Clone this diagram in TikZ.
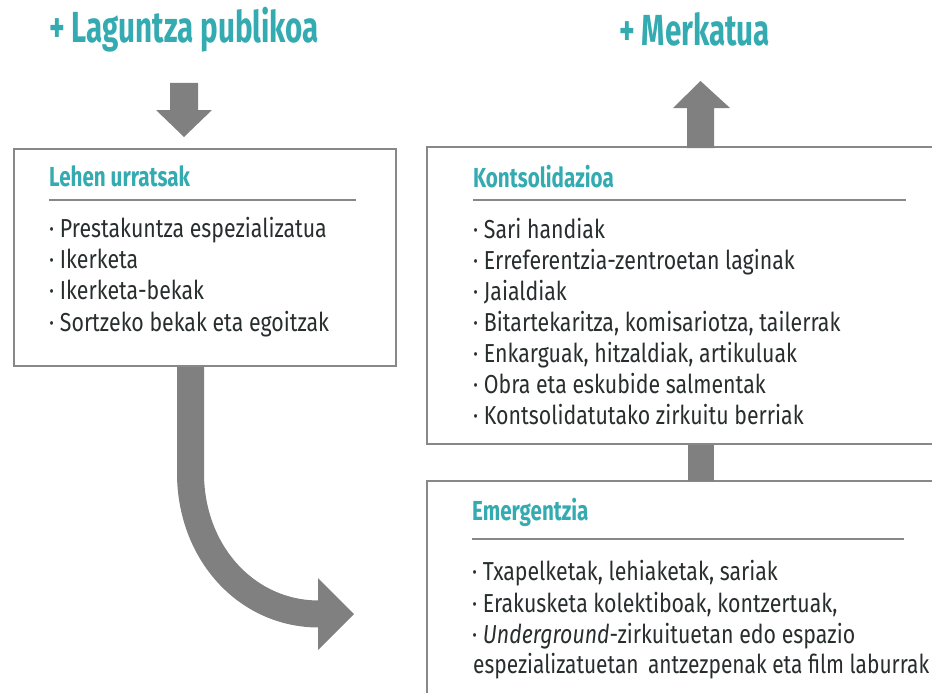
\documentclass[tikz,border=0pt]{standalone}
\usepackage{graphicx}
\usepackage{fontspec}
\setmainfont[FakeStretch=0.82]{Fira Sans}
\newfontfamily\titlefont[FakeStretch=0.68]{Fira Sans}
\newfontfamily\headfont[FakeStretch=0.75]{Fira Sans}
\definecolor{tealc}{RGB}{52,171,177}
\definecolor{textc}{RGB}{40,46,46}
\definecolor{arrowc}{RGB}{128,128,128}
\definecolor{boxc}{RGB}{136,136,136}
\begin{document}
\begin{tikzpicture}[x=1pt,y=-1pt,
  box/.style={draw=boxc, line width=2pt, fill=white, inner sep=0pt, outer sep=0pt, anchor=north west},
  maintitle/.style={anchor=base west, inner sep=0pt, text=tealc, font=\titlefont\bfseries\fontsize{43.5}{50}\selectfont},
  heading/.style={anchor=base west, inner sep=0pt, text=tealc, font=\headfont\bfseries\fontsize{27.5}{32}\selectfont},
  item/.style={anchor=base west, inner sep=0pt, text=textc, font=\fontsize{26}{31}\selectfont},
  rulel/.style={draw=boxc, line width=1.4pt},
  bigarrow/.style={fill=arrowc, draw=none}
]
\useasboundingbox (0,0) rectangle (932,693);
\clip (0,0) rectangle (932,693);

% titles
\node[maintitle] (t1) at (49,43) {+ Laguntza publikoa};
\node[maintitle] (t2) at (619,46) {+ Merkatua};

% boxes
\node[box, minimum width=382pt, minimum height=217pt] (b1) at (14,149) {};
\node[box, minimum width=530pt, minimum height=297pt] (b2) at (427,147) {};
\node[box, minimum width=530pt, minimum height=240pt] (b3) at (427,481) {};

% down arrow into first box
\fill[bigarrow] (170,83) -- (198,83) -- (198,110) -- (212,110) -- (184,137) -- (156,110) -- (170,110) -- cycle;

% up arrow from second box
\fill[bigarrow] (687,148) -- (687,108) -- (673,108) -- (700.5,81) -- (730,108) -- (714,108) -- (714,148) -- cycle;

% connector between Emergentzia and Kontsolidazioa
\fill[bigarrow] (688,445) rectangle (714,481);

% curved arrow
\coordinate (cstart) at (190.5,367);
\coordinate (cend) at (319,614);
\draw[arrowc, line width=27pt] (cstart) -- (190.5,473) .. controls (190.5,552) and (246,614) .. (cend);
\fill[bigarrow] (318,578) -- (354,614) -- (318,650) -- cycle;

% box 1
\node[heading] (h1) at (49,186) {Lehen urratsak};
\draw[rulel] (49,200) -- (356,200);
\node[item] (l1) at (49,237) {· Prestakuntza espezializatua};
\node[item] (l2) at (49,268) {· Ikerketa};
\node[item] (l3) at (49,299.5) {· Ikerketa-bekak};
\node[item] (l4) at (49,331) {· Sortzeko bekak eta egoitzak};

% box 2
\node[heading] (h2) at (473,187) {Kontsolidazioa};
\draw[rulel] (473,200) -- (906,200);
\node[item] (k1) at (473,238) {· Sari handiak};
\node[item] (k2) at (473,269) {· Erreferentzia-zentroetan laginak};
\node[item] (k3) at (473,300.3) {· Jaialdiak};
\node[item] (k4) at (473,331.5) {· Bitartekaritza, komisariotza, tailerrak};
\node[item] (k5) at (473,362.6) {· Enkarguak, hitzaldiak, artikuluak};
\node[item] (k6) at (473,393.7) {· Obra eta eskubide salmentak};
\node[item] (k7) at (473,424.8) {· Kontsolidatutako zirkuitu berriak};

% box 3
\node[heading] (h3) at (472,520) {Emergentzia};
\draw[rulel] (472,539) -- (904,539);
\node[item] (e1) at (472,580) {· Txapelketak, lehiaketak, sariak};
\node[item] (e2) at (472,612) {· Erakusketa kolektiboak, kontzertuak,};
\node[item] (e3) at (472,643) {· \textit{Underground}-zirkuituetan edo espazio};
\node[item] (e4) at (473,673.5) {\resizebox{456pt}{\height}{espezializatuetan\hspace{0.15em} antzezpenak eta film laburrak}};
\end{tikzpicture}
\end{document}
